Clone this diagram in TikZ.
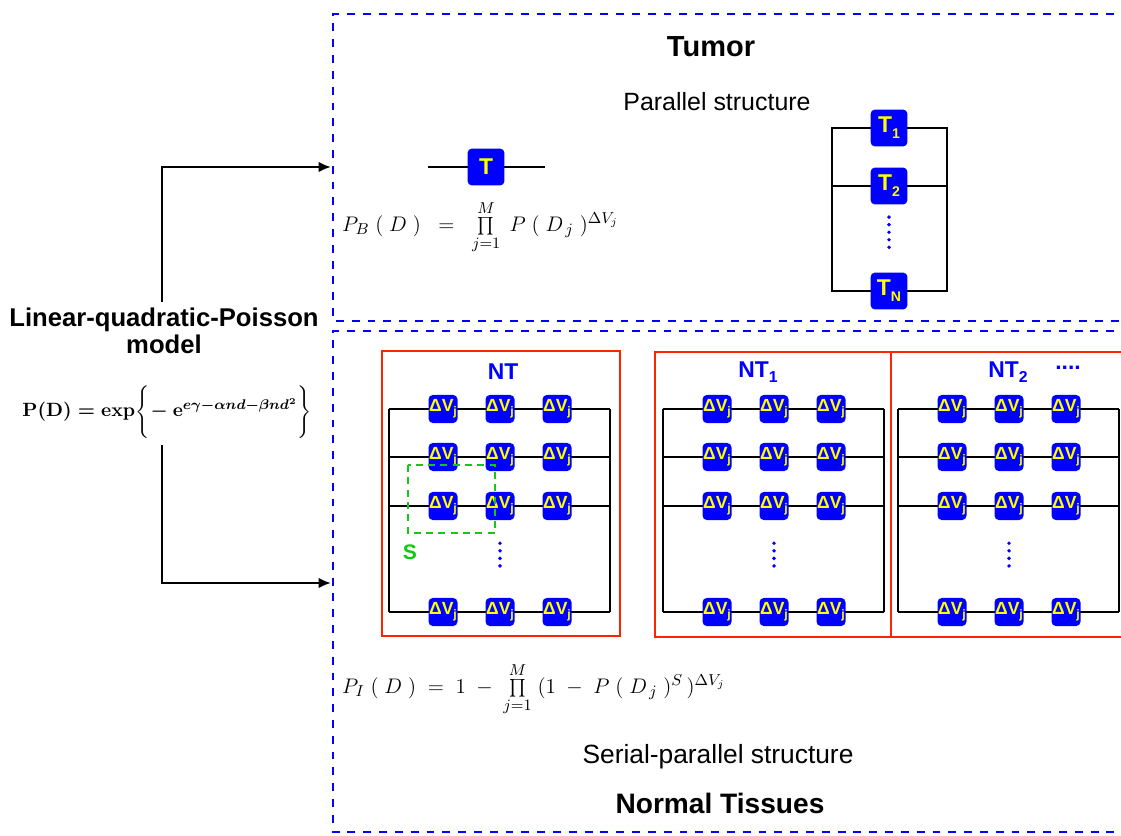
\documentclass[tikz,border=0pt]{standalone}
\usepackage[no-math]{fontspec}
\setmainfont{Liberation Sans}
\usetikzlibrary{arrows.meta,positioning,calc}
\definecolor{unitblue}{RGB}{0,0,255}
\definecolor{unityellow}{RGB}{255,255,0}
\definecolor{ntred}{RGB}{255,35,0}
\definecolor{sgreen}{RGB}{20,200,20}
\tikzset{
	frame/.style={unitblue, line width=1.6pt, dash pattern=on 4.5pt off 4.5pt}, % the two dashed regions
	unit/.style={rectangle, rounded corners=2.5pt, fill=unitblue, text=unityellow, inner sep=0pt},
	tunit/.style={unit, minimum size=21pt, font=\bfseries\fontsize{13}{13}\selectfont},
	vunit/.style={unit, minimum width=16.5pt, minimum height=16pt, font=\bfseries\fontsize{10}{10}\selectfont},
	wire/.style={-, line width=1.5pt},
	flow/.style={-{Latex[length=7pt,width=6pt]}, line width=1.5pt},
	bluedots/.style={unitblue, line width=2.2pt, line cap=round, dash pattern=on 0pt off 4.3pt},
	ntbox/.style={draw=ntred, line width=1.1pt},
	ntlabel/.style={text=unitblue, font=\bfseries\fontsize{13}{13}\selectfont}
}
\newcommand{\dv}{ΔV\raisebox{-2.5pt}{\fontsize{7}{7}\selectfont j}}
\newcommand{\tsub}[1]{T\raisebox{-3.5pt}{\fontsize{8}{8}\selectfont #1}}
\newcommand{\lqpformula}{\mbox{\boldmath$\mathrm{P(D)=exp}\Bigg\{\!-\mathrm{e}^{e\gamma-\alpha nd-\beta nd^{2}}\Bigg\}$}}

\begin{document}
\begin{tikzpicture}[x=0.02cm, y=-0.02cm]
	\useasboundingbox (0,0) rectangle (1121,835);
	% frames
	\draw[frame] (1130,14) -- (333,14) -- (333,321) -- (1130,321);
	\draw[frame] (1130,331) -- (333,331) -- (333,832) -- (1130,832);
	% model
	\node[font=\bfseries\fontsize{14.6}{15.5}\selectfont, align=center] (lqp) at (164,331) {Linear-quadratic-Poisson\\model};
	\node[font=\fontsize{10.8}{13}\selectfont] (pd) at (167,412) {\lqpformula};
	\coordinate (tin) at (331,167);
	\coordinate (nin) at (331,583);
	\draw[flow] (lqp.north) ++(-2,0) |- (tin);
	\draw[flow] (pd.south) ++(-5,0) |- (nin);
	% tumor
	\node[font=\bfseries\fontsize{16.5}{16.5}\selectfont] (tumor) at (711,47) {Tumor};
	\node[font=\fontsize{14.2}{14.2}\selectfont] (par) at (717,102) {Parallel structure};
	\coordinate (tl) at (428,167);
	\coordinate (tr) at (545,167);
	\draw[wire] (tl) -- (tr);
	\node[tunit] (T) at (486,167) {T};
	\node[anchor=west, font=\fontsize{13}{13}\selectfont] (pb) at (336,227) {$P_{B}\;(\;D\;)\;\;=\;\;\prod\limits_{j=1}^{M}\;P\;(\;D_{\,j}\;)^{\Delta V_{j}}$};
	\coordinate (p1l) at (832,128);
	\coordinate (p1r) at (947,128);
	\coordinate (p2l) at (832,186);
	\coordinate (p2r) at (947,186);
	\coordinate (p3l) at (832,291);
	\coordinate (p3r) at (947,291);
	\draw[wire] (p1l) -- (p1r) -- (p3r) -- (p3l) -- cycle;
	\draw[wire] (p2l) -- (p2r);
	\node[tunit] (T1) at (889,128) {\tsub{1}};
	\node[tunit] (T2) at (889,186) {\tsub{2}};
	\node[tunit] (TN) at (889,291) {\tsub{N}};
	\draw[bluedots, shorten <=7pt, shorten >=10pt] (T2) -- (TN);
	% normal tissues
	\draw[ntbox] (382,351) rectangle (620,636);
	\draw[ntbox] (655,352) rectangle (891,637);
	\draw[ntbox] (891,352) rectangle (1130,637);
	\node[ntlabel] (nt) at (503,372) {NT};
	\node[ntlabel] (nt1) at (758,372) {NT\raisebox{-3pt}{\fontsize{9}{9}\selectfont 1}};
	\node[ntlabel] (nt2) at (1008,372) {NT\raisebox{-3pt}{\fontsize{9}{9}\selectfont 2}};
	\node[ntlabel] (more) at (1068,368) {....};
	\foreach \b/\l in {1/389, 2/663, 3/898} {
		\foreach \r/\y in {1/409, 2/457, 3/506, 4/612} {
			\coordinate (w\b\r l) at (\l,\y);
			\coordinate (w\b\r r) at ({\l+221},\y);
			\draw[wire] (w\b\r l) -- (w\b\r r);
			\foreach \c in {1,2,3}
				\node[vunit] (v\b\c\r) at ({\l+57*\c-3},\y) {\dv};
		}
		\draw[wire] (w\b1l) -- (w\b4l);
		\draw[wire] (w\b1r) -- (w\b4r);
		\draw[bluedots, shorten <=13pt, shorten >=14pt] (v\b23) -- (v\b24);
	}
	\draw[sgreen, line width=1.3pt, dash pattern=on 4pt off 3pt] (408,465) rectangle (495,533);
	\node[text=sgreen, font=\bfseries\fontsize{12}{12}\selectfont] (s) at (410,552) {S};
	\node[anchor=west, font=\fontsize{12.5}{12.5}\selectfont] (pi) at (336,689) {$P_{I}\;(\;D\;)\;=\;1\;-\;\prod\limits_{j=1}^{M}\;(1\;-\;P\;(\;D_{\,j}\;)^{S}\,)^{\Delta V_{j}}$};
	\node[font=\fontsize{15}{15}\selectfont] (serpar) at (718,757) {Serial-parallel structure};
	\node[font=\bfseries\fontsize{16}{16}\selectfont] (normal) at (720,803) {Normal Tissues};
\end{tikzpicture}
\end{document}
